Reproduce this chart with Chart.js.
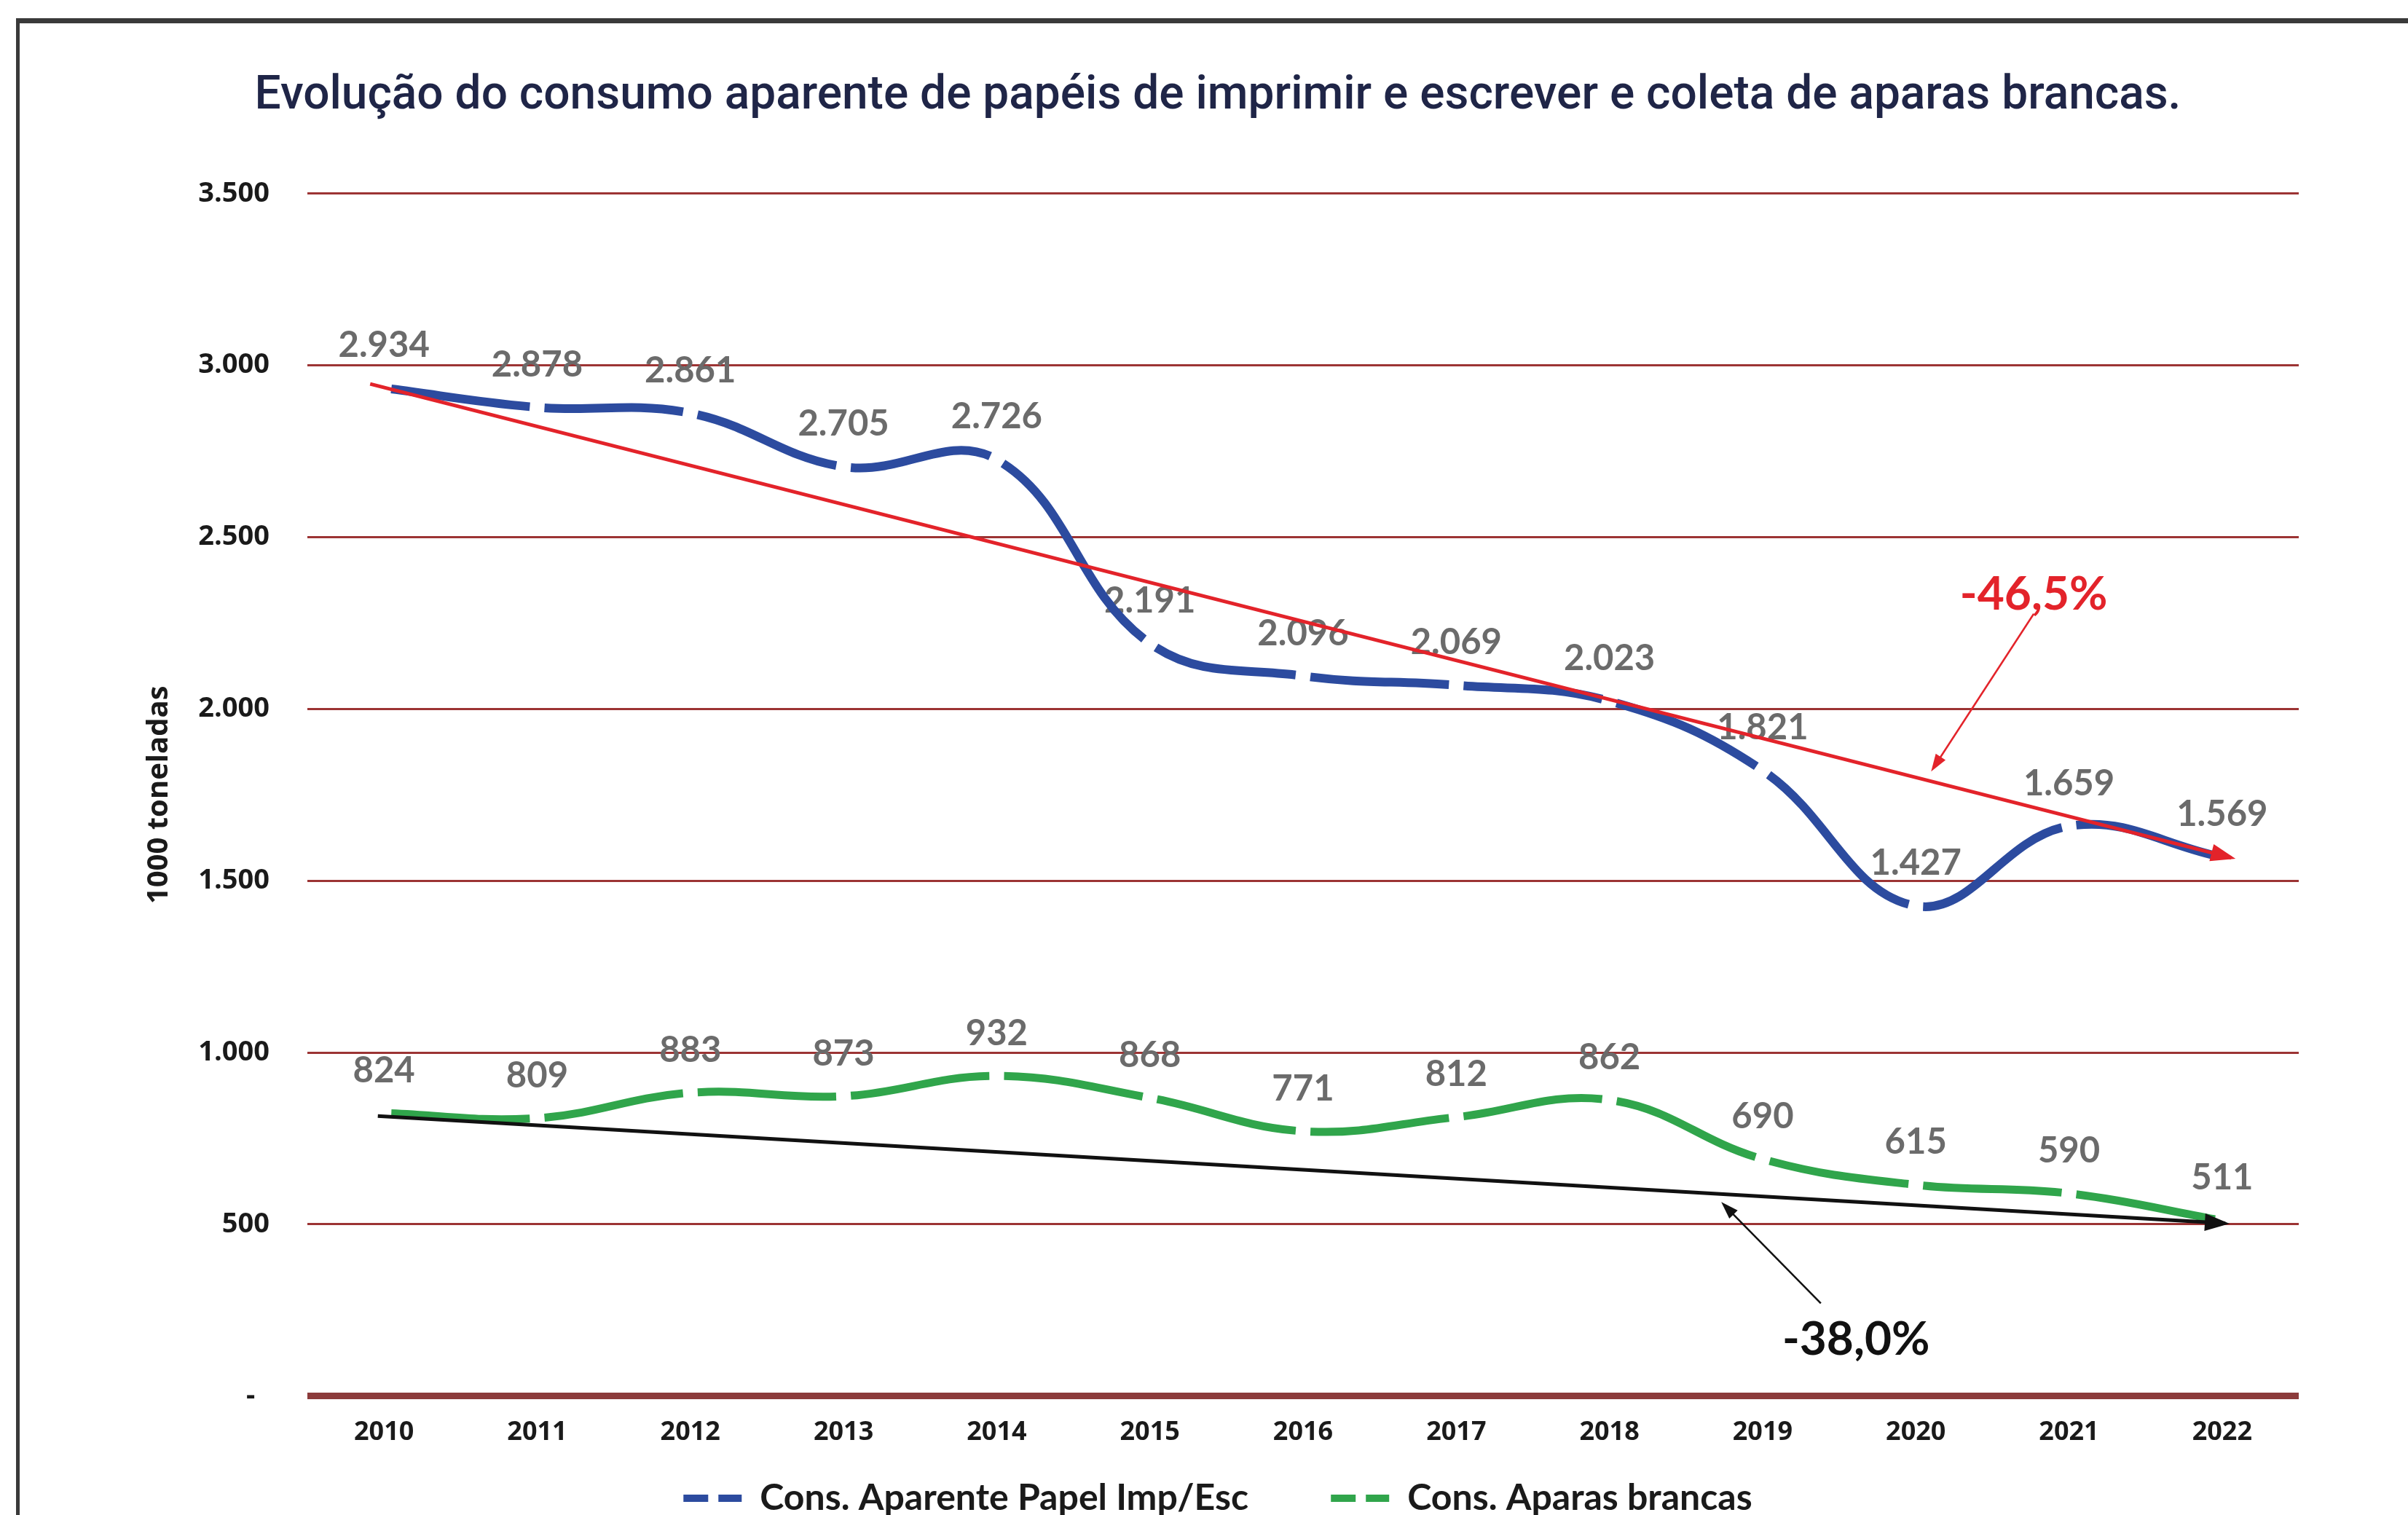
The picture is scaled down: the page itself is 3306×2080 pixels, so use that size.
<!DOCTYPE html>
<html>
<head>
<meta charset="utf-8">
<script src="https://cdn.jsdelivr.net/npm/chart.js@4.4.1/dist/chart.umd.min.js"></script>
<style>
  html, body { margin: 0; padding: 0; background: #fff; }
</style>
</head>
<body>
<canvas id="grafico" width="3306" height="2080"></canvas>
<script>
const anos = ['2010', '2011', '2012', '2013', '2014', '2015', '2016', '2017', '2018', '2019', '2020', '2021', '2022'];
const consumoPapel = [2934, 2878, 2861, 2705, 2726, 2191, 2096, 2069, 2023, 1821, 1427, 1659, 1569];
const coletaAparas = [824, 809, 883, 873, 932, 868, 771, 812, 862, 690, 615, 590, 511];

// setas de tendência: posição na escala de categorias (0 = 2010) e valor
const tendPapelX = [-0.09, 12.06];
const tendPapelY = [2946, 1567];
const tendAparasX = [-0.04, 12.02];
const tendAparasY = [815, 503];

const variacoes = ['-46,5%', '-38,0%'];

function fmt(v) {
  return v >= 1000 ? Math.floor(v / 1000) + '.' + String(v % 1000).padStart(3, '0') : String(v);
}

// Excel desenha cada trecho tracejado separado, com uma pequena falha em cada ponto
const GAP = 20;
function bezierLength(p0, p1) {
  const c1x = p0.cp2x ?? p0.x, c1y = p0.cp2y ?? p0.y;
  const c2x = p1.cp1x ?? p1.x, c2y = p1.cp1y ?? p1.y;
  let len = 0, px = p0.x, py = p0.y;
  for (let i = 1; i <= 60; i++) {
    const t = i / 60, u = 1 - t;
    const x = u * u * u * p0.x + 3 * u * u * t * c1x + 3 * u * t * t * c2x + t * t * t * p1.x;
    const y = u * u * u * p0.y + 3 * u * u * t * c1y + 3 * u * t * t * c2y + t * t * t * p1.y;
    len += Math.hypot(x - px, y - py);
    px = x; py = y;
  }
  return len;
}
function dashWithGaps(ctx) {
  const len = bezierLength(ctx.p0, ctx.p1);
  return [0, GAP / 2, Math.max(len - GAP, 1), len + 200];
}

function arrowHead(ctx, x0, y0, x1, y1, color, len, half) {
  const a = Math.atan2(y1 - y0, x1 - x0);
  const bx = x1 - len * Math.cos(a), by = y1 - len * Math.sin(a);
  ctx.fillStyle = color;
  ctx.beginPath();
  ctx.moveTo(x1, y1);
  ctx.lineTo(bx + half * Math.sin(a), by - half * Math.cos(a));
  ctx.lineTo(bx - half * Math.sin(a), by + half * Math.cos(a));
  ctx.closePath();
  ctx.fill();
}

const moldura = {
  id: 'moldura',
  beforeDraw(chart) {
    const ctx = chart.ctx;
    ctx.save();
    ctx.fillStyle = '#ffffff';
    ctx.fillRect(0, 0, chart.width, chart.height);
    ctx.fillStyle = '#3a3a3a';
    ctx.fillRect(22, 25, chart.width - 22, 7);
    ctx.fillRect(22, 25, 5, chart.height - 25);
    ctx.restore();
  }
};

const rotulos = {
  id: 'rotulos',
  beforeDatasetsDraw(chart) {
    const ctx = chart.ctx;
    ctx.save();
    ctx.font = 'bold 49px Lato';
    ctx.fillStyle = '#6b6b6b';
    ctx.textAlign = 'center';
    ctx.textBaseline = 'alphabetic';
    [0, 1].forEach(i => {
      const valores = chart.data.datasets[i].data;
      chart.getDatasetMeta(i).data.forEach((p, j) => {
        ctx.fillText(fmt(valores[j]), p.x, p.y - 60 + 0.358 * 49);
      });
    });
    ctx.restore();
  }
};

const setas = {
  id: 'setas',
  afterDatasetsDraw(chart, args, opts) {
    const ctx = chart.ctx;
    const xt = chart.scales.xt, y = chart.scales.y;
    ctx.save();
    [2, 3].forEach(i => {
      const pts = chart.getDatasetMeta(i).data;
      const a = pts[pts.length - 2], b = pts[pts.length - 1];
      const ang = Math.atan2(b.y - a.y, b.x - a.x);
      arrowHead(ctx, a.x, a.y, b.x + 6 * Math.cos(ang), b.y + 6 * Math.sin(ang),
        chart.data.datasets[i].borderColor, 34, 12);
    });
    opts.notas.forEach(n => {
      const lx = xt.getPixelForValue(n.rotulo[0]), ly = y.getPixelForValue(n.rotulo[1]);
      ctx.font = 'bold 64px Lato';
      ctx.fillStyle = n.cor;
      ctx.textAlign = 'center';
      ctx.textBaseline = 'alphabetic';
      ctx.fillText(n.texto, lx, ly + 0.358 * 64);
      const x0 = xt.getPixelForValue(n.de[0]), y0 = y.getPixelForValue(n.de[1]);
      const x1 = xt.getPixelForValue(n.ate[0]), y1 = y.getPixelForValue(n.ate[1]);
      const ang = Math.atan2(y1 - y0, x1 - x0);
      ctx.strokeStyle = n.cor;
      ctx.lineWidth = 2.5;
      ctx.beginPath();
      ctx.moveTo(x0, y0);
      ctx.lineTo(x1 - 14 * Math.cos(ang), y1 - 14 * Math.sin(ang));
      ctx.stroke();
      arrowHead(ctx, x0, y0, x1, y1, n.cor, 24, 8);
    });
    ctx.restore();
  }
};

Chart.defaults.font.family = 'Open Sans';

new Chart(document.getElementById('grafico'), {
  type: 'line',
  data: {
    labels: anos,
    datasets: [
      {
        label: 'Cons. Aparente Papel Imp/Esc',
        data: consumoPapel,
        borderColor: '#2c4b9f',
        borderWidth: 12,
        borderCapStyle: 'butt',
        tension: 0.4,
        pointRadius: 0,
        order: 1,
        segment: { borderDash: dashWithGaps }
      },
      {
        label: 'Cons. Aparas brancas',
        data: coletaAparas,
        borderColor: '#30a54b',
        borderWidth: 11,
        borderCapStyle: 'butt',
        tension: 0.4,
        pointRadius: 0,
        order: 1,
        segment: { borderDash: dashWithGaps }
      },
      {
        label: 'Tendência papel',
        data: tendPapelX.map((x, i) => ({ x, y: tendPapelY[i] })),
        xAxisID: 'xt',
        borderColor: '#e3232a',
        borderWidth: 5,
        pointRadius: 0,
        order: 0
      },
      {
        label: 'Tendência aparas',
        data: tendAparasX.map((x, i) => ({ x, y: tendAparasY[i] })),
        xAxisID: 'xt',
        borderColor: '#111111',
        borderWidth: 5,
        pointRadius: 0,
        order: 0
      }
    ]
  },
  options: {
    responsive: false,
    animation: false,
    devicePixelRatio: 1,
    layout: { padding: { left: 188, right: 150, top: 0, bottom: -12 } },
    scales: {
      x: {
        type: 'category',
        offset: true,
        grid: { display: false, drawTicks: false },
        border: { display: false },
        ticks: { padding: 28, color: '#1a1a1a', font: { size: 36, weight: 'bold' } }
      },
      xt: { type: 'linear', axis: 'x', display: false, min: -0.5, max: 12.5 },
      y: {
        min: 0,
        max: 3500,
        ticks: {
          stepSize: 500,
          padding: 52,
          color: '#1a1a1a',
          font: { size: 38, weight: 'bold' },
          callback: v => (v === 0 ? '-  ' : fmt(v))
        },
        grid: {
          drawTicks: false,
          color: c => (c.tick && c.tick.value === 0 ? '#8c3b3b' : '#9c3434'),
          lineWidth: c => (c.tick && c.tick.value === 0 ? 9 : 3)
        },
        border: { display: false },
        title: {
          display: true,
          text: '1000 toneladas',
          color: '#1a1a1a',
          font: { size: 40, weight: 'bold' },
          padding: { top: 7, bottom: 0 }
        },
        afterFit: s => { s.width = 234; }
      }
    },
    plugins: {
      title: {
        display: true,
        text: 'Evolução do consumo aparente de papéis de imprimir e escrever e coleta de aparas brancas.',
        color: '#1f2547',
        font: { family: 'Roboto', size: 64, weight: 500 },
        padding: { top: 95, bottom: 94 }
      },
      legend: {
        position: 'bottom',
        labels: {
          usePointStyle: true,
          pointStyleWidth: 80,
          color: '#1a1a1a',
          padding: 16,
          font: { family: 'Lato', size: 50, weight: 'bold' },
          generateLabels: chart => Chart.defaults.plugins.legend.labels.generateLabels(chart)
            .filter(l => l.datasetIndex < 2)
            .map(l => Object.assign(l, {
              text: l.datasetIndex === 0 ? l.text + '        ' : l.text,
              pointStyle: 'line', lineWidth: 10, lineDash: [34, 14], lineDashOffset: 0
            }))
        }
      },
      tooltip: { enabled: false },
      setas: {
        notas: [
          { texto: variacoes[0], cor: '#e3232a', rotulo: [10.77, 2338], de: [10.77, 2277], ate: [10.10, 1818] },
          { texto: variacoes[1], cor: '#111111', rotulo: [9.61, 168], de: [9.38, 270], ate: [8.73, 565] }
        ]
      }
    }
  },
  plugins: [moldura, rotulos, setas]
});
</script>
</body>
</html>
